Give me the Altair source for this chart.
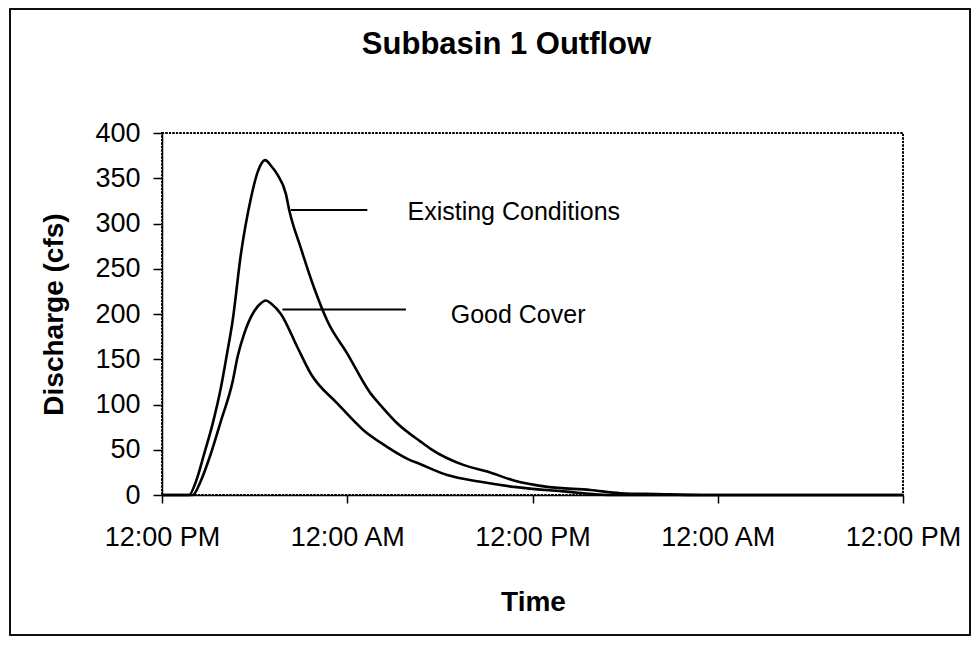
import altair as alt
import pandas as pd

# Hours after the first 12:00 PM
existing_hours = [0, 1.75, 2.2, 2.74, 3.3, 3.82, 4.2, 4.57, 5.11, 5.76, 6.2, 6.68, 7.1, 7.48,
                  8.02, 8.24, 8.99, 9.85, 10.72, 12.01, 13.52, 14.17, 15.25, 16.75, 17.4,
                  19.56, 21.07, 22.79, 24.95, 27.75, 29.7, 32, 35, 48]
existing_cfs = [0, 0, 15, 46, 80, 119, 155, 192, 266, 328, 357, 370, 363, 354,
                333, 315, 273, 229, 192, 156, 112, 99, 79, 59, 51,
                33, 26, 16, 9, 5.5, 2, 1, 0, 0]

good_hours = [0, 2.0, 2.5, 3.17, 3.82, 4.57, 4.9, 5.32, 5.97, 6.35, 6.73, 7.1, 7.7, 8.78,
              9.64, 11.37, 13.09, 14.6, 15.9, 16.75, 18.48, 20.63, 22.79, 26.02, 29.26, 48]
good_cfs = [0, 0, 15, 46, 82, 125, 153, 178, 203, 211, 215, 211, 200, 163,
            134, 101, 71, 53, 40, 34, 22, 14.6, 9, 4, 0, 0]

tick_hours = [0, 12, 24, 36, 48]
tick_labels = ["12:00 PM", "12:00 AM", "12:00 PM", "12:00 AM", "12:00 PM"]

label_names = ["Existing Conditions", "Good Cover"]
leader_start = [8.34, 7.8]
leader_end = [13.3, 15.8]
leader_level = [315, 205]
label_hour = [15.9, 18.7]
label_level = [313, 199]

FONT = "Liberation Sans"

df = pd.concat([
    pd.DataFrame({"hour": existing_hours, "cfs": existing_cfs, "series": "Existing Conditions"}),
    pd.DataFrame({"hour": good_hours, "cfs": good_cfs, "series": "Good Cover"}),
])
ann = pd.DataFrame({"name": label_names, "x1": leader_start, "x2": leader_end,
                    "y": leader_level, "lx": label_hour, "ly": label_level})

label_expr = "{" + ",".join(f"'{h}':'{l}'" for h, l in zip(tick_hours, tick_labels)) + "}[datum.value]"

x_scale = alt.Scale(domain=[0, 48], nice=False)
y_scale = alt.Scale(domain=[0, 400], nice=False)

lines = alt.Chart(df).mark_line(color="black", strokeWidth=2.6, interpolate="monotone").encode(
    x=alt.X("hour:Q", scale=x_scale,
            axis=alt.Axis(values=tick_hours, labelExpr=label_expr, title="Time",
                          grid=False, domainColor="black", domainWidth=1.5,
                          tickColor="black", tickSize=8, tickWidth=1.5,
                          labelFont=FONT, labelFontSize=27, labelColor="black",
                          labelPadding=21, labelFlush=False,
                          titleFont=FONT, titleFontSize=28, titleFontWeight="bold",
                          titleColor="black", titleBaseline="alphabetic",
                          titleX=371, titleY=115)),
    y=alt.Y("cfs:Q", scale=y_scale,
            axis=alt.Axis(values=list(range(0, 401, 50)), title="Discharge (cfs)",
                          grid=False, domainColor="black", domainWidth=1.5,
                          tickColor="black", tickSize=9, tickWidth=1.5,
                          labelFont=FONT, labelFontSize=27, labelColor="black",
                          labelPadding=13, labelFlush=False,
                          titleFont=FONT, titleFontSize=28, titleFontWeight="bold",
                          titleColor="black", titleBaseline="alphabetic",
                          titleAngle=270, titleX=-100, titleY=181)),
    detail="series:N",
)

leaders = alt.Chart(ann).mark_rule(color="black", strokeWidth=2).encode(
    x="x1:Q", x2="x2:Q", y="y:Q")

labels = alt.Chart(ann).mark_text(align="left", baseline="middle", font=FONT,
                                  fontSize=25, color="black").encode(
    x="lx:Q", y="ly:Q", text="name:N")

frame = alt.Chart(ann).mark_rect(fill=None, stroke="black", strokeWidth=1.5).encode(
    x=alt.value(-152), x2=alt.value(808), y=alt.value(-124), y2=alt.value(502))

# dotted plot-area border (top and right sides are visible above the axes)
plot_border = alt.Chart(ann).mark_rect(fill=None, stroke="black", strokeWidth=2,
                                       strokeDash=[2, 1.5]).encode(
    x=alt.value(0), x2=alt.value(741), y=alt.value(0), y2=alt.value(362))

chart = alt.layer(frame, plot_border, lines, leaders, labels).properties(
    width=741, height=362,
    title=alt.Title("Subbasin 1 Outflow", font=FONT, fontSize=31, fontWeight="bold",
                    color="black", anchor="middle", dx=-26, offset=-53),
    autosize=alt.AutoSizeParams(type="none"),
    padding={"left": 154, "top": 125, "right": 68, "bottom": 142},
).configure_view(strokeWidth=0
).configure(background="white")

chart.save("out.html", embed_options={"renderer": "svg", "actions": False})
